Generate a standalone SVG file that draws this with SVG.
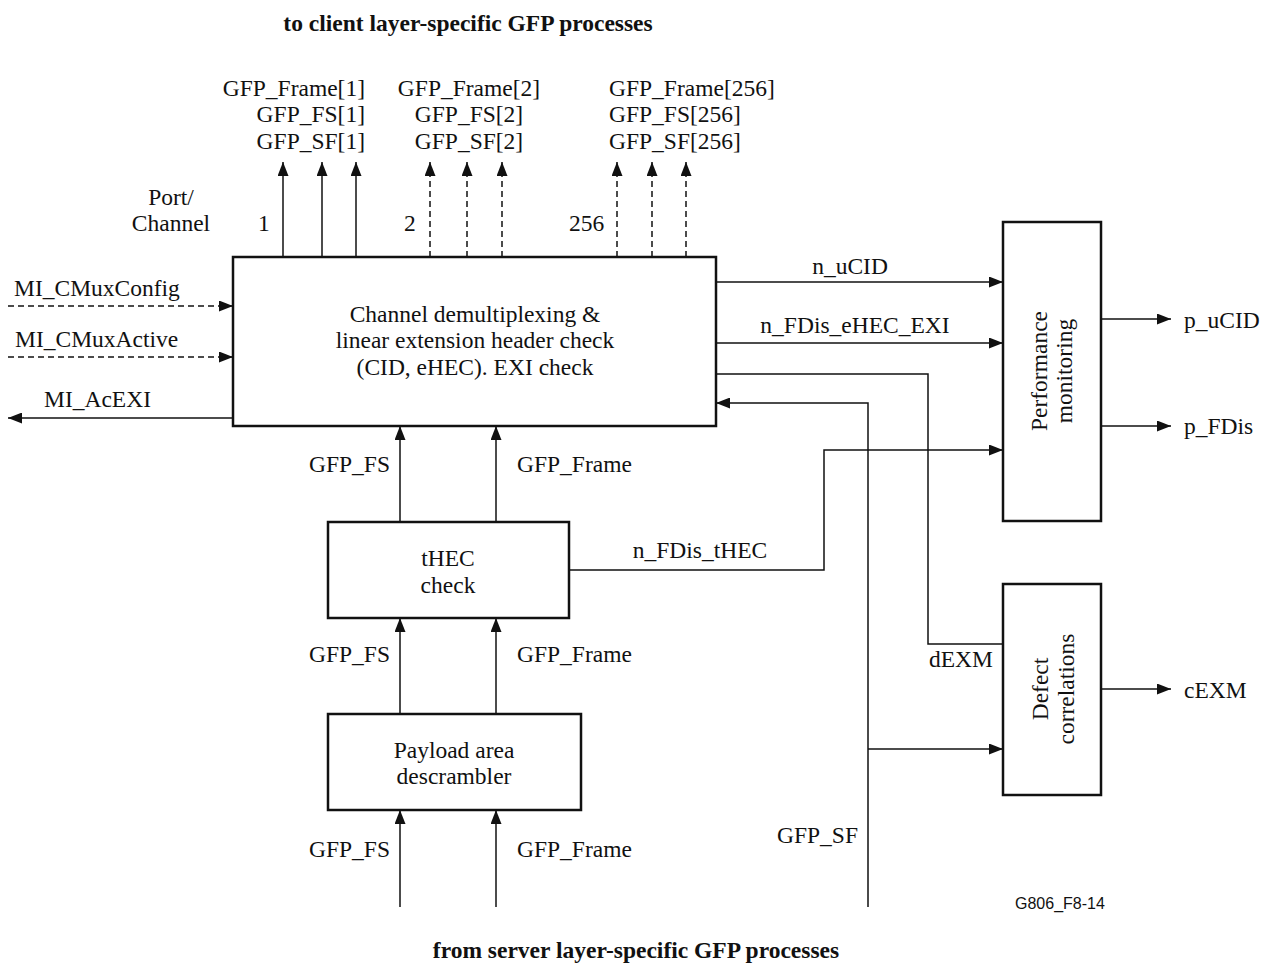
<svg xmlns="http://www.w3.org/2000/svg" width="1268" height="965" viewBox="0 0 1268 965">
<style>
text{font-family:"Liberation Serif","Times New Roman",serif;font-size:23.5px;fill:#111}
.b{font-weight:bold}
.m{text-anchor:middle}
.e{text-anchor:end}
.sans{font-family:"Liberation Sans",Arial,sans-serif;font-size:16px}
.box{fill:#fff;stroke:#111;stroke-width:2.5}
.ln{fill:none;stroke:#111;stroke-width:1.5}
.dash{stroke-dasharray:6 4}
.arr{marker-end:url(#ah)}
</style>
<defs>
<marker id="ah" viewBox="0 0 14 11" refX="14" refY="5.5" markerWidth="14" markerHeight="11" markerUnits="userSpaceOnUse" orient="auto">
<path d="M0,0 L14,5.5 L0,11 z" fill="#111"/>
</marker>
</defs>
<rect width="1268" height="965" fill="#fff"/>

<text class="b m" x="468" y="31">to client layer-specific GFP processes</text>
<text class="b m" x="636" y="958">from server layer-specific GFP processes</text>
<text class="sans" x="1015" y="909">G806_F8-14</text>

<g id="connectors">
<line class="ln arr" x1="283" y1="257" x2="283" y2="162"/>
<line class="ln arr" x1="322" y1="257" x2="322" y2="162"/>
<line class="ln arr" x1="356" y1="257" x2="356" y2="162"/>
<line class="ln dash arr" x1="430" y1="257" x2="430" y2="162"/>
<line class="ln dash arr" x1="467" y1="257" x2="467" y2="162"/>
<line class="ln dash arr" x1="502" y1="257" x2="502" y2="162"/>
<line class="ln dash arr" x1="617" y1="257" x2="617" y2="162"/>
<line class="ln dash arr" x1="652" y1="257" x2="652" y2="162"/>
<line class="ln dash arr" x1="686" y1="257" x2="686" y2="162"/>
<line class="ln dash arr" x1="8" y1="306" x2="233" y2="306"/>
<line class="ln dash arr" x1="8" y1="357" x2="233" y2="357"/>
<line class="ln arr" x1="233" y1="418" x2="8" y2="418"/>
<line class="ln arr" x1="400" y1="522" x2="400" y2="426"/>
<line class="ln arr" x1="496" y1="522" x2="496" y2="426"/>
<line class="ln arr" x1="400" y1="714" x2="400" y2="618"/>
<line class="ln arr" x1="496" y1="714" x2="496" y2="618"/>
<line class="ln arr" x1="400" y1="907" x2="400" y2="810"/>
<line class="ln arr" x1="496" y1="907" x2="496" y2="810"/>
<line class="ln arr" x1="716" y1="282" x2="1003" y2="282"/>
<line class="ln arr" x1="716" y1="343" x2="1003" y2="343"/>
<polyline class="ln arr" points="569,570 824,570 824,450 1003,450"/>
<polyline class="ln" points="716,374 928,374 928,644 1003,644"/>
<polyline class="ln arr" points="868,907 868,403 716,403"/>
<line class="ln arr" x1="868" y1="749" x2="1003" y2="749"/>
<line class="ln arr" x1="1101" y1="319" x2="1171" y2="319"/>
<line class="ln arr" x1="1101" y1="426" x2="1171" y2="426"/>
<line class="ln arr" x1="1101" y1="689" x2="1171" y2="689"/>
</g>

<g id="labels">
<text class="e" x="365" y="96">GFP_Frame[1]</text>
<text class="e" x="365" y="122">GFP_FS[1]</text>
<text class="e" x="365" y="149">GFP_SF[1]</text>
<text class="m" x="469" y="96">GFP_Frame[2]</text>
<text class="m" x="469" y="122">GFP_FS[2]</text>
<text class="m" x="469" y="149">GFP_SF[2]</text>
<text x="609" y="96">GFP_Frame[256]</text>
<text x="609" y="122">GFP_FS[256]</text>
<text x="609" y="149">GFP_SF[256]</text>
<text class="m" x="171" y="205">Port/</text>
<text class="m" x="171" y="231">Channel</text>
<text x="258" y="231">1</text>
<text x="404" y="231">2</text>
<text x="569" y="231">256</text>
<text x="14" y="296">MI_CMuxConfig</text>
<text x="15" y="347">MI_CMuxActive</text>
<text x="44" y="407">MI_AcEXI</text>
<text x="309" y="472">GFP_FS</text>
<text x="517" y="472">GFP_Frame</text>
<text x="309" y="662">GFP_FS</text>
<text x="517" y="662">GFP_Frame</text>
<text x="309" y="857">GFP_FS</text>
<text x="517" y="857">GFP_Frame</text>
<text class="m" x="850" y="274">n_uCID</text>
<text class="m" x="855" y="333">n_FDis_eHEC_EXI</text>
<text class="m" x="700" y="558">n_FDis_tHEC</text>
<text x="929" y="667">dEXM</text>
<text x="777" y="843">GFP_SF</text>
<text x="1184" y="328">p_uCID</text>
<text x="1184" y="434">p_FDis</text>
<text x="1184" y="698">cEXM</text>
</g>

<g id="demux">
<rect class="box" x="233" y="257" width="483" height="169"/>
<text class="m" x="475" y="322">Channel demultiplexing &amp;</text>
<text class="m" x="475" y="348">linear extension header check</text>
<text class="m" x="475" y="375">(CID, eHEC). EXI check</text>
</g>

<g id="thec">
<rect class="box" x="328" y="522" width="241" height="96"/>
<text class="m" x="448" y="566">tHEC</text>
<text class="m" x="448" y="593">check</text>
</g>

<g id="descrambler">
<rect class="box" x="328" y="714" width="253" height="96"/>
<text class="m" x="454" y="758">Payload area</text>
<text class="m" x="454" y="784">descrambler</text>
</g>

<g id="pm">
<rect class="box" x="1003" y="222" width="98" height="299"/>
<text class="m" transform="translate(1047,371) rotate(-90)">Performance</text>
<text class="m" transform="translate(1072,371) rotate(-90)">monitoring</text>
</g>

<g id="dc">
<rect class="box" x="1003" y="584" width="98" height="211"/>
<text class="m" transform="translate(1048,689) rotate(-90)">Defect</text>
<text class="m" transform="translate(1074,689) rotate(-90)">correlations</text>
</g>
</svg>
